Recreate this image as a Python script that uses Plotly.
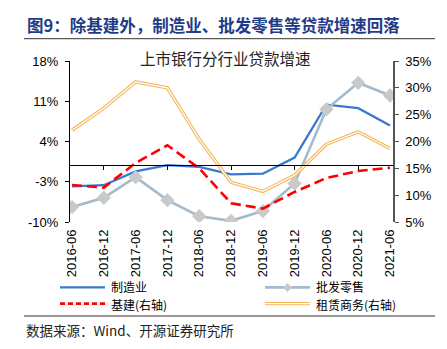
import plotly.graph_objects as go

categories = ["2016-06", "2016-12", "2017-06", "2017-12", "2018-06", "2018-12",
              "2019-06", "2019-12", "2020-06", "2020-12", "2021-06"]
manufacturing = [-3.8, -3.6, -1.2, -0.1, -0.4, -1.7, -1.6, 1.2, 10.4, 9.8, 6.8]
wholesale_retail = [-7.4, -5.8, -2.2, -6.2, -9.0, -9.8, -8.1, -3.3, 9.6, 14.2, 12.0]
infrastructure = [11.9, 11.4, 16.0, 19.3, 15.0, 8.5, 7.5, 10.6, 13.2, 14.5, 15.1]
leasing_business = [22.1, 26.2, 31.1, 30.0, 20.4, 12.4, 10.7, 13.7, 19.5, 21.8, 18.7]

left_ticks = [-10, -3, 4, 11, 18]
right_ticks = [5, 10, 15, 20, 25, 30, 35]

names = ["制造业", "批发零售", "基建(右轴)", "租赁商务(右轴)"]

xi = list(range(len(categories)))

C_BLUE = "#3A79D0"
C_GRAY = "#A3BBCB"
C_DIAM = "#C9C9C9"
C_RED = "#FF0000"
C_ORANGE = "#F7B65A"

fig = go.Figure()

# left-axis series
fig.add_trace(go.Scatter(x=xi, y=manufacturing, mode="lines",
                         line=dict(color=C_BLUE, width=2.3), showlegend=False, name=names[0]))
fig.add_trace(go.Scatter(x=xi, y=wholesale_retail, mode="lines+markers",
                         line=dict(color=C_GRAY, width=2.6),
                         marker=dict(symbol="diamond", size=11, color=C_DIAM),
                         showlegend=False, name=names[1]))
# right-axis series
fig.add_trace(go.Scatter(x=xi, y=leasing_business, yaxis="y2", mode="lines",
                         line=dict(color=C_ORANGE, width=3.4), showlegend=False, hoverinfo="skip"))
fig.add_trace(go.Scatter(x=xi, y=leasing_business, yaxis="y2", mode="lines",
                         line=dict(color="white", width=1.2), showlegend=False, name=names[3]))
fig.add_trace(go.Scatter(x=xi, y=infrastructure, yaxis="y2", mode="lines",
                         line=dict(color=C_RED, width=2.6, dash="10px,5px"), showlegend=False, name=names[2]))
# helper trace carrying the zero-line category axis
fig.add_trace(go.Scatter(x=[xi[0]], y=[None], xaxis="x2", yaxis="y", mode="lines",
                         showlegend=False, hoverinfo="skip"))

xr = [-0.063, 10.094]
y_min, y_max = left_ticks[0], left_ticks[-1]
zero_pos = (0 - y_min) / (y_max - y_min)

fig.update_layout(
    width=447, height=349,
    margin=dict(l=70, r=54, t=61, b=127),
    paper_bgcolor="white", plot_bgcolor="white",
    font=dict(family="Arial, Liberation Sans, Noto Sans CJK SC", size=13, color="black"),
    showlegend=False,
    xaxis=dict(range=xr, tickvals=xi, ticktext=categories, tickangle=-90,
               showline=False, ticks="", showgrid=False, zeroline=False,
               tickfont=dict(size=13), ticklabelstandoff=4),
    xaxis2=dict(range=xr, overlaying="x", anchor="free", position=zero_pos,
                tickvals=xi[1::2], showticklabels=False, ticks="outside", ticklen=4,
                tickcolor="black", showline=True, linecolor="black", linewidth=1,
                showgrid=False, zeroline=False),
    yaxis=dict(range=[y_min, y_max], tickvals=left_ticks,
               ticktext=[f"{v}%" for v in left_ticks],
               showline=True, linecolor="black", linewidth=1.2, ticks="outside",
               ticklen=4, tickcolor="black", showgrid=False, zeroline=False,
               ticklabelstandoff=4),
    yaxis2=dict(range=[right_ticks[0], right_ticks[-1]], tickvals=right_ticks,
                ticktext=[f"{v}%" for v in right_ticks], overlaying="y", side="right",
                showline=True, linecolor="#555555", linewidth=1.5, ticks="outside",
                ticklen=4, tickcolor="#555555", showgrid=False, zeroline=False,
                ticklabelstandoff=4),
)

W = 323.0
H = 161.0
def px_x(p):
    return (p - 70) / W
def px_y(p):
    return (222 - p) / H

shapes = []
# header and footer rules
shapes.append(dict(type="line", xref="paper", yref="paper", x0=px_x(24), x1=px_x(435),
                   y0=px_y(38.7), y1=px_y(38.7), line=dict(color="#333333", width=1)))
shapes.append(dict(type="line", xref="paper", yref="paper", x0=px_x(24), x1=px_x(435),
                   y0=px_y(316), y1=px_y(316), line=dict(color="#333333", width=1)))

# manual legend
r1, r2 = px_y(287.4), px_y(303.6)
t1, t2 = px_y(286.2), px_y(304.6)
shapes.append(dict(type="line", xref="paper", yref="paper", x0=px_x(60), x1=px_x(105),
                   y0=r1, y1=r1, line=dict(color=C_BLUE, width=2.3)))
shapes.append(dict(type="line", xref="paper", yref="paper", x0=px_x(60), x1=px_x(105),
                   y0=r2, y1=r2, line=dict(color=C_RED, width=2.6, dash="5px,3px")))
shapes.append(dict(type="line", xref="paper", yref="paper", x0=px_x(265), x1=px_x(310),
                   y0=r1, y1=r1, line=dict(color=C_GRAY, width=2.6)))
cx, cy = px_x(287.5), r1
dx, dy = 4.5 / W, 4.5 / H
shapes.append(dict(type="path", xref="paper", yref="paper",
                   path=f"M {cx-dx} {cy} L {cx} {cy+dy} L {cx+dx} {cy} L {cx} {cy-dy} Z",
                   fillcolor=C_DIAM, line=dict(width=0)))
shapes.append(dict(type="line", xref="paper", yref="paper", x0=px_x(265), x1=px_x(310),
                   y0=r2, y1=r2, line=dict(color=C_ORANGE, width=3.4)))
shapes.append(dict(type="line", xref="paper", yref="paper", x0=px_x(265), x1=px_x(310),
                   y0=r2, y1=r2, line=dict(color="white", width=1.2)))

cjk = "Noto Sans CJK SC"
lf = dict(family=cjk, size=12)
annotations = [
    dict(text="<b>图9：除基建外，制造业、批发零售等贷款增速回落</b>", xref="paper", yref="paper",
         x=px_x(25), y=px_y(25), xanchor="left", yanchor="middle", showarrow=False,
         font=dict(family=cjk, size=16.5, color="#1F3C88")),
    dict(text="上市银行分行业贷款增速", xref="paper", yref="paper",
         x=px_x(225.5), y=px_y(57.7), xanchor="center", yanchor="middle", showarrow=False,
         font=dict(family=cjk, size=15.5, color="#222222")),
    dict(text=names[0], xref="paper", yref="paper", x=px_x(110), y=t1,
         xanchor="left", yanchor="middle", showarrow=False, font=lf, borderpad=0),
    dict(text=names[2], xref="paper", yref="paper", x=px_x(110), y=t2,
         xanchor="left", yanchor="middle", showarrow=False, font=lf, borderpad=0),
    dict(text=names[1], xref="paper", yref="paper", x=px_x(315), y=t1,
         xanchor="left", yanchor="middle", showarrow=False, font=lf, borderpad=0),
    dict(text=names[3], xref="paper", yref="paper", x=px_x(315), y=t2,
         xanchor="left", yanchor="middle", showarrow=False, font=lf, borderpad=0),
    dict(text="数据来源：Wind、开源证券研究所", xref="paper", yref="paper",
         x=px_x(24), y=px_y(330), xanchor="left", yanchor="middle", showarrow=False,
         font=dict(family=cjk, size=13.5, color="#222222")),
]
fig.update_layout(shapes=shapes, annotations=annotations)

fig.write_html("out.html")
